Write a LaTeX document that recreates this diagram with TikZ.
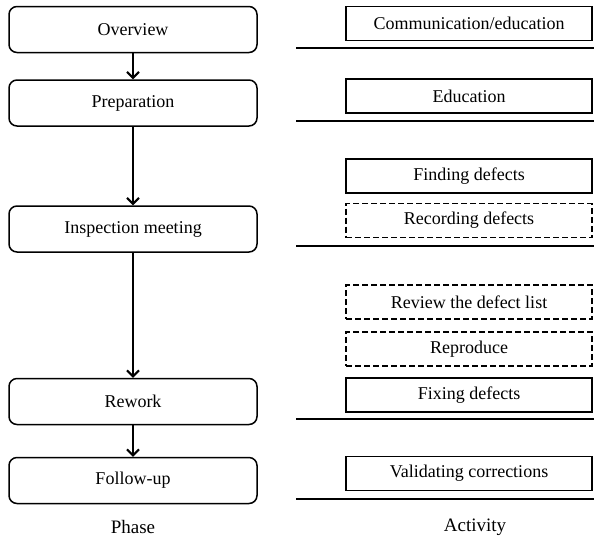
\documentclass[tikz,border=0pt]{standalone}
\usepackage{fontspec}
\setmainfont{Liberation Serif}
\usepackage{tikz}
\usetikzlibrary{arrows.meta, positioning}

\tikzset{
  phasebox/.style={draw, line width=1.5pt, rounded corners=8pt, minimum width=248pt, minimum height=46pt, inner sep=0pt, font=\fontsize{18}{21}\selectfont},
  actbox/.style={draw, line width=1.5pt, minimum width=246pt, minimum height=34pt, inner sep=0pt, font=\fontsize{18}{21}\selectfont},
  optbox/.style={actbox, dashed, dash pattern=on 6pt off 3pt},
  flow/.style={line width=2pt, -{Straight Barb[length=6pt, width=12pt, line width=2pt]}},
  rule/.style={line width=1.6pt}
}

\begin{document}
\begin{tikzpicture}[x=1pt, y=-1pt]
  \useasboundingbox (0,0) rectangle (594,542);

  % phases
  \node[phasebox] (overview)    at (133,29.5)  {Overview};
  \node[phasebox] (preparation) at (133,103)   {Preparation};
  \node[phasebox] (inspection)  at (133,229)   {Inspection meeting};
  \node[phasebox] (rework)      at (133,401.5) {Rework};
  \node[phasebox] (followup)    at (133,480.5) {Follow-up};

  \draw[flow] (overview) -- (preparation);
  \draw[flow] (preparation) -- (inspection);
  \draw[flow] (inspection) -- (rework);
  \draw[flow] (rework) -- (followup);

  % activities
  \node[actbox] (comm)       at (469,23.5)  {Communication/education};
  \node[actbox] (edu)        at (469,96)    {Education};
  \node[actbox] (finding)    at (469,176)   {Finding defects};
  \node[optbox] (recording)  at (469,220.5) {Recording defects};
  \node[optbox] (review)     at (469,302)   {Review the defect list};
  \node[optbox] (reproduce)  at (469,349)   {Reproduce};
  \node[actbox] (fixing)     at (469,395)   {Fixing defects};
  \node[actbox] (validating) at (469,473.5) {Validating corrections};

  % separators
  \foreach \y in {48,121,246,419,499}
    \draw[rule] (296,\y) -- (594,\y);

  % captions
  \node[font=\fontsize{19}{22}\selectfont] (phase)    at (133,527) {Phase};
  \node[font=\fontsize{19}{22}\selectfont] (activity) at (475,527)   {Activity};
\end{tikzpicture}
\end{document}
